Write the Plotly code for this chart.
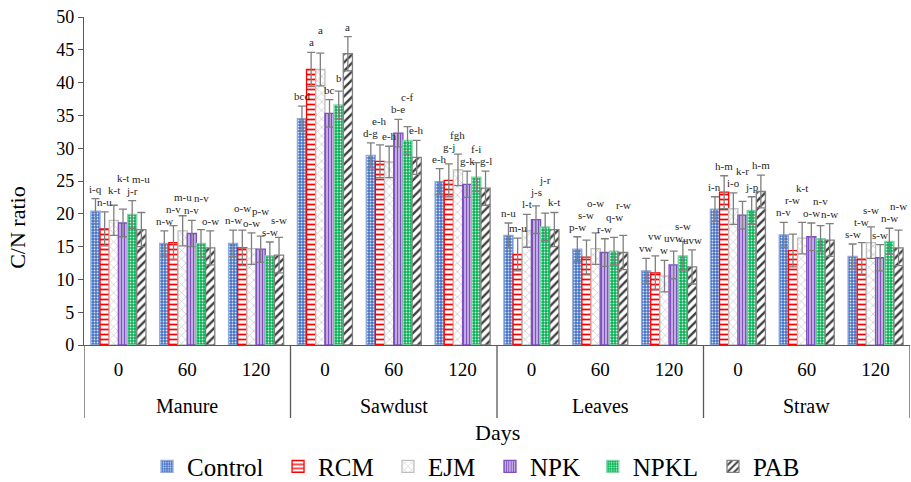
import plotly.graph_objects as go

materials = ["Manure", "Sawdust", "Leaves", "Straw"]
days = ["0", "60", "120"]
treatments = ["Control", "RCM", "EJM", "NPK", "NPKL", "PAB"]

control = [20.4, 15.5, 15.5, 34.5, 28.9, 24.9, 16.7, 14.6, 11.3, 20.7, 16.8, 13.5]
rcm     = [17.7, 15.6, 14.8, 42.0, 28.0, 25.1, 13.8, 13.4, 11.0, 23.3, 14.4, 13.1]
ejm     = [19.0, 17.4, 14.7, 42.0, 27.9, 26.7, 17.4, 14.7, 10.5, 20.8, 16.3, 15.6]
npk     = [18.6, 17.0, 14.6, 35.3, 32.3, 24.5, 19.1, 14.1, 12.2, 19.8, 16.5, 13.3]
npkl    = [19.9, 15.5, 13.6, 36.6, 31.2, 25.6, 18.0, 14.3, 13.6, 20.5, 16.2, 15.8]
pab     = [17.6, 14.8, 13.7, 44.4, 28.6, 23.9, 17.6, 14.1, 11.9, 23.4, 16.0, 14.8]

control_err = [1.9, 1.9, 2.0, 1.9, 1.9, 2.0, 1.9, 1.9, 1.9, 1.9, 1.9, 1.9]
rcm_err     = [2.6, 2.6, 2.7, 2.6, 2.5, 2.5, 2.5, 2.6, 2.6, 2.5, 2.5, 2.5]
ejm_err     = [2.3, 2.3, 2.4, 2.5, 2.4, 2.4, 2.5, 2.4, 2.4, 2.4, 2.4, 2.4]
npk_err     = [2.1, 2.0, 2.0, 2.1, 2.1, 2.0, 2.1, 2.1, 2.1, 2.1, 2.1, 2.0]
npkl_err    = [2.1, 2.1, 2.1, 2.1, 2.1, 2.2, 2.1, 2.1, 2.2, 2.1, 2.0, 2.0]
pab_err     = [2.6, 2.6, 2.7, 2.6, 2.6, 2.6, 2.6, 2.6, 2.6, 2.5, 2.5, 2.7]

control_lbl = ["i-q", "n-w", "n-w", "bcd", "d-g", "e-h", "n-u", "p-w", "vw", "i-n", "n-v", "s-w"]
rcm_lbl     = ["n-u", "n-v", "o-w", "a", "e-h", "g-j", "m-u", "s-w", "vw", "h-m", "r-w", "t-w"]
ejm_lbl     = ["k-t", "m-u", "o-w", "a", "e-h", "fgh", "l-t", "o-w", "w", "i-o", "k-t", "s-w"]
npk_lbl     = ["k-t", "n-v", "p-w", "bc", "b-e", "g-k", "j-s", "r-w", "uvw", "k-r", "o-w", "s-w"]
npkl_lbl    = ["j-r", "n-v", "s-w", "b", "c-f", "f-i", "j-r", "q-w", "s-w", "j-p", "n-v", "n-w"]
pab_lbl     = ["m-u", "o-w", "s-w", "a", "e-h", "g-l", "k-t", "r-w", "uvw", "h-m", "n-w", "n-w"]

values = [control, rcm, ejm, npk, npkl, pab]
errors = [control_err, rcm_err, ejm_err, npk_err, npkl_err, pab_err]
labels = [control_lbl, rcm_lbl, ejm_lbl, npk_lbl, npkl_lbl, pab_lbl]

FONT = "Liberation Serif"
AXC = "#595959"
W, H = 911, 482
ML, MR, MT, MB = 84, 1, 17, 137
YMAX = 50

styles = [
    dict(shape=".", fg="#DCE6F7", bg="#4472C4", line="#8FAADC", size=3, sol=0.3),
    dict(shape="-", fg="#FF0000", bg="#FFFFFF", line="#FF0000", size=5, sol=0.35),
    dict(shape="x", fg="#BFBFBF", bg="#FFFFFF", line="#BFBFBF", size=6, sol=0.2),
    dict(shape="|", fg="#7F4FC0", bg="#FFFFFF", line="#7F4FC0", size=3, sol=0.65),
    dict(shape=".", fg="#DDF5E7", bg="#00B050", line="#7FD7A7", size=3, sol=0.3),
    dict(shape="/", fg="#404040", bg="#FFFFFF", line="#808080", size=6, sol=0.4),
]
# left edge of each legend entry (paper fraction)
legend_x = [0.0763, 0.2349, 0.368, 0.4915, 0.616, 0.7615]

n_slots = len(materials) * len(days)
xpos = list(range(n_slots))
tick_text = [d for _ in materials for d in days]

fig = go.Figure()
for k, (name, v, e, st) in enumerate(zip(treatments, values, errors, styles)):
    fig.add_trace(go.Bar(
        name=name, x=xpos, y=v,
        legend="legend" if k == 0 else f"legend{k + 1}",
        marker=dict(color=st["bg"],
                    line=dict(color=st["line"], width=1.3),
                    pattern=dict(shape=st["shape"], fgcolor=st["fg"], bgcolor=st["bg"],
                                 size=st["size"], solidity=st["sol"], fillmode="replace")),
        error_y=dict(type="data", array=e, visible=True, color="#7F7F7F", thickness=1.3, width=4),
    ))

bargap = 0.2
nb = len(treatments)
bw = (1 - bargap) / nb
ppu = (H - MT - MB) / YMAX  # pixels per unit
step = 12  # min vertical separation of neighbouring labels (px)
annotations = []
for j in range(n_slots):
    prev = None
    for i in range(nb):
        top_px = (values[i][j] + errors[i][j]) * ppu + 2
        pos = top_px
        if prev is not None and abs(pos - prev) < step:
            pos = prev + step
        prev = pos
        annotations.append(dict(
            x=j + (i - (nb - 1) / 2) * bw, y=values[i][j] + errors[i][j], xref="x", yref="y",
            text=labels[i][j], showarrow=False, yanchor="bottom",
            yshift=pos - (values[i][j] + errors[i][j]) * ppu,
            font=dict(family=FONT, size=11, color="#262626")))

nd = len(days)
for k, m in enumerate(materials):
    annotations.append(dict(text=m, x=k * nd + (nd - 1) / 2, y=-0.186, xref="x", yref="paper",
                            showarrow=False, yanchor="middle", xanchor="center",
                            font=dict(family=FONT, size=20, color="#000")))
shapes = []
for k in range(len(materials) + 1):
    shapes.append(dict(type="line", xref="x", yref="paper", x0=k * nd - 0.5, x1=k * nd - 0.5,
                       y0=0, y1=-0.2226, line=dict(color=AXC, width=1.3)))

annotations.append(dict(text="C/N ratio", x=-0.08, y=0.36, xref="paper", yref="paper",
                        xanchor="center", yanchor="middle",
                        textangle=-90, showarrow=False, font=dict(family=FONT, size=22, color="#000")))
annotations.append(dict(text="Days", x=0.5, y=-0.268, xref="paper", yref="paper",
                        xanchor="center", yanchor="middle",
                        showarrow=False, font=dict(family=FONT, size=22, color="#000")))

legends = {}
for k, lx in enumerate(legend_x):
    key = "legend" if k == 0 else f"legend{k + 1}"
    legends[key] = dict(orientation="h", x=lx, y=-0.371, xanchor="left", yanchor="middle",
                        font=dict(family=FONT, size=25, color="#000"), itemwidth=30,
                        bgcolor="rgba(0,0,0,0)")

fig.update_layout(
    width=W, height=H,
    margin=dict(l=ML, r=MR, t=MT, b=MB, autoexpand=False),
    barmode="group", bargap=bargap, bargroupgap=0,
    plot_bgcolor="white", paper_bgcolor="white",
    font=dict(family=FONT, color="#000"),
    showlegend=True,
    annotations=annotations,
    shapes=shapes,
    xaxis=dict(range=[-0.5, n_slots - 0.5], tickvals=xpos, ticktext=tick_text,
               showline=True, linecolor=AXC, linewidth=1.3, ticks="", showgrid=False,
               zeroline=False, tickfont=dict(family=FONT, size=19), ticklabelstandoff=7,
               automargin=False),
    yaxis=dict(range=[0, YMAX], dtick=5, showline=True, linecolor=AXC, linewidth=1.3,
               ticks="outside", ticklen=5, tickcolor=AXC, showgrid=False,
               tickfont=dict(family=FONT, size=18), zeroline=False, automargin=False),
    **legends,
)

fig.write_html("out.html")
